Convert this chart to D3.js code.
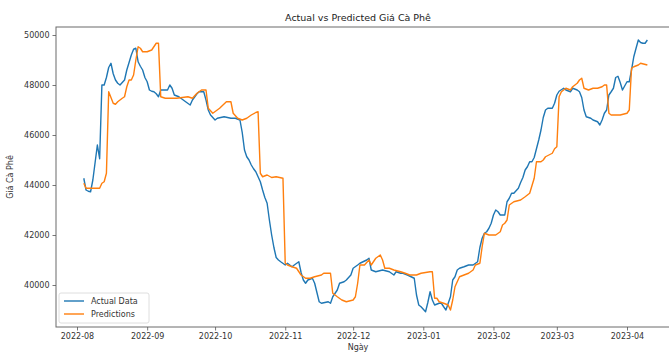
<!DOCTYPE html>
<html>
<head>
<meta charset="utf-8">
<script src="https://cdn.jsdelivr.net/npm/d3@7"></script>
<style>
  html, body { margin: 0; padding: 0; background: #fff; }
  svg { display: block; font-family: "DejaVu Sans", sans-serif; }
</style>
</head>
<body>
<svg id="chart" width="669" height="354"></svg>
<script>
// Daily coffee price: actual values and model predictions
const actualSeries = [
  ["2022-08-04",44270],["2022-08-05",43800],["2022-08-06",43750],["2022-08-07",43730],["2022-08-08",44200],
  ["2022-08-09",44900],["2022-08-10",45600],["2022-08-11",45050],["2022-08-12",48000],["2022-08-13",48000],
  ["2022-08-14",48300],["2022-08-15",48700],["2022-08-16",48870],["2022-08-17",48450],["2022-08-18",48200],
  ["2022-08-19",48070],["2022-08-20",48000],["2022-08-21",48100],["2022-08-22",48200],["2022-08-23",48600],
  ["2022-08-24",48900],["2022-08-25",49200],["2022-08-26",49430],["2022-08-27",49470],["2022-08-28",48930],
  ["2022-08-29",48750],["2022-08-30",48600],["2022-08-31",48300],["2022-09-01",48130],["2022-09-02",47800],
  ["2022-09-03",47750],["2022-09-04",47730],["2022-09-05",47650],["2022-09-06",47530],["2022-09-07",47800],
  ["2022-09-08",47800],["2022-09-10",47800],["2022-09-11",48000],["2022-09-12",47870],["2022-09-13",47600],
  ["2022-09-15",47530],["2022-09-18",47330],["2022-09-20",47200],["2022-09-21",47400],["2022-09-23",47650],
  ["2022-09-24",47730],["2022-09-26",47730],["2022-09-27",47400],["2022-09-28",47000],["2022-09-29",46800],
  ["2022-10-01",46600],["2022-10-02",46670],["2022-10-05",46730],["2022-10-08",46670],["2022-10-10",46670],
  ["2022-10-12",46600],["2022-10-13",46100],["2022-10-14",45400],["2022-10-15",45130],["2022-10-16",45000],
  ["2022-10-17",44800],["2022-10-18",44650],["2022-10-19",44530],["2022-10-20",44330],["2022-10-21",44130],
  ["2022-10-22",43800],["2022-10-23",43500],["2022-10-24",43270],["2022-10-25",42600],["2022-10-26",42000],
  ["2022-10-27",41500],["2022-10-28",41100],["2022-10-29",41000],["2022-10-30",40930],["2022-11-01",40800],
  ["2022-11-02",40870],["2022-11-04",40730],["2022-11-05",40800],["2022-11-07",40930],["2022-11-08",40500],
  ["2022-11-09",40200],["2022-11-10",40070],["2022-11-11",40200],["2022-11-13",40270],["2022-11-14",40070],
  ["2022-11-15",39700],["2022-11-16",39330],["2022-11-17",39270],["2022-11-20",39330],["2022-11-21",39270],
  ["2022-11-22",39530],["2022-11-24",39800],["2022-11-25",40070],["2022-11-27",40130],["2022-11-28",40200],
  ["2022-11-30",40400],["2022-12-01",40670],["2022-12-03",40800],["2022-12-04",40870],["2022-12-07",41000],
  ["2022-12-08",41070],["2022-12-09",40600],["2022-12-11",40530],["2022-12-14",40600],["2022-12-17",40530],
  ["2022-12-19",40400],["2022-12-20",40530],["2022-12-22",40470],["2022-12-23",40470],["2022-12-25",40400],
  ["2022-12-28",40270],["2022-12-29",39600],["2022-12-30",39200],["2022-12-31",39130],["2023-01-02",38930],
  ["2023-01-03",39300],["2023-01-04",39730],["2023-01-05",39400],["2023-01-06",39200],["2023-01-08",39270],
  ["2023-01-09",39270],["2023-01-10",39130],["2023-01-11",39000],["2023-01-13",39530],["2023-01-14",40200],
  ["2023-01-15",40330],["2023-01-16",40600],["2023-01-17",40670],["2023-01-19",40730],["2023-01-21",40800],
  ["2023-01-23",40800],["2023-01-25",40930],["2023-01-26",41500],["2023-01-27",41870],["2023-01-28",42070],
  ["2023-01-29",42130],["2023-01-30",42270],["2023-01-31",42470],["2023-02-01",42800],["2023-02-02",43000],
  ["2023-02-03",42930],["2023-02-04",42800],["2023-02-06",42800],["2023-02-07",43330],["2023-02-08",43470],
  ["2023-02-09",43670],["2023-02-10",43670],["2023-02-12",43870],["2023-02-13",44100],["2023-02-14",44300],
  ["2023-02-15",44600],["2023-02-16",44730],["2023-02-17",44930],["2023-02-18",44930],["2023-02-19",45100],
  ["2023-02-20",45450],["2023-02-21",45800],["2023-02-22",46200],["2023-02-23",46700],["2023-02-24",47000],
  ["2023-02-25",47070],["2023-02-27",47070],["2023-02-28",47270],["2023-03-01",47600],["2023-03-02",47750],
  ["2023-03-04",47870],["2023-03-05",47800],["2023-03-07",47730],["2023-03-08",47870],["2023-03-10",47800],
  ["2023-03-11",47730],["2023-03-12",47500],["2023-03-13",47000],["2023-03-14",46730],["2023-03-16",46670],
  ["2023-03-17",46600],["2023-03-19",46530],["2023-03-20",46400],["2023-03-21",46600],["2023-03-22",46870],
  ["2023-03-23",47000],["2023-03-24",47600],["2023-03-25",47730],["2023-03-26",47870],["2023-03-27",48300],
  ["2023-03-28",48350],["2023-03-29",48100],["2023-03-30",47800],["2023-04-01",48130],["2023-04-02",48130],
  ["2023-04-03",48600],["2023-04-04",49130],["2023-04-05",49470],["2023-04-06",49800],["2023-04-07",49700],
  ["2023-04-08",49670],["2023-04-09",49670],["2023-04-10",49800]
];

const predictedSeries = [
  ["2022-08-04",44070],["2022-08-05",43870],["2022-08-11",43870],["2022-08-12",44070],["2022-08-13",44130],
  ["2022-08-14",44470],["2022-08-15",47730],["2022-08-16",47500],["2022-08-17",47270],["2022-08-18",47230],
  ["2022-08-19",47330],["2022-08-21",47470],["2022-08-22",47530],["2022-08-23",47930],["2022-08-24",48200],
  ["2022-08-25",48200],["2022-08-26",48400],["2022-08-27",49000],["2022-08-28",49530],["2022-08-29",49470],
  ["2022-08-30",49330],["2022-09-01",49330],["2022-09-03",49400],["2022-09-05",49670],["2022-09-06",49670],
  ["2022-09-07",47530],["2022-09-09",47470],["2022-09-11",47470],["2022-09-14",47470],["2022-09-19",47530],
  ["2022-09-21",47470],["2022-09-23",47670],["2022-09-25",47800],["2022-09-27",47800],["2022-09-28",47070],
  ["2022-09-30",46870],["2022-10-03",47070],["2022-10-06",47330],["2022-10-08",47330],["2022-10-09",46870],
  ["2022-10-11",46670],["2022-10-13",46600],["2022-10-15",46670],["2022-10-17",46800],["2022-10-19",46900],
  ["2022-10-20",46930],["2022-10-21",44470],["2022-10-22",44330],["2022-10-24",44400],["2022-10-26",44300],
  ["2022-10-28",44330],["2022-10-31",44270],["2022-11-01",40870],["2022-11-02",40800],["2022-11-04",40730],
  ["2022-11-06",40670],["2022-11-08",40400],["2022-11-10",40270],["2022-11-12",40270],["2022-11-14",40330],
  ["2022-11-17",40400],["2022-11-18",40470],["2022-11-21",40470],["2022-11-22",39670],["2022-11-24",39530],
  ["2022-11-26",39400],["2022-11-28",39330],["2022-12-01",39400],["2022-12-02",39530],["2022-12-03",40070],
  ["2022-12-04",40800],["2022-12-06",40800],["2022-12-08",41000],["2022-12-09",40800],["2022-12-11",41070],
  ["2022-12-13",41200],["2022-12-14",41000],["2022-12-15",40670],["2022-12-17",40670],["2022-12-19",40600],
  ["2022-12-22",40530],["2022-12-24",40470],["2022-12-26",40400],["2022-12-29",40400],["2022-12-31",40470],
  ["2023-01-04",40530],["2023-01-05",40530],["2023-01-06",39470],["2023-01-07",39470],["2023-01-08",39330],
  ["2023-01-10",39270],["2023-01-12",39200],["2023-01-13",39000],["2023-01-14",39400],["2023-01-15",39930],
  ["2023-01-16",40130],["2023-01-17",40330],["2023-01-19",40400],["2023-01-21",40470],["2023-01-23",40600],
  ["2023-01-24",40800],["2023-01-26",40870],["2023-01-27",41530],["2023-01-28",42070],["2023-01-30",42000],
  ["2023-02-02",42000],["2023-02-04",42130],["2023-02-05",42400],["2023-02-06",42470],["2023-02-07",42600],
  ["2023-02-08",43200],["2023-02-10",43330],["2023-02-13",43400],["2023-02-15",43530],["2023-02-17",43670],
  ["2023-02-19",44270],["2023-02-20",44930],["2023-02-22",44930],["2023-02-23",45000],["2023-02-24",45130],
  ["2023-02-27",45270],["2023-02-28",45450],["2023-03-01",45530],["2023-03-02",47530],["2023-03-03",47730],
  ["2023-03-05",47870],["2023-03-07",47800],["2023-03-08",47930],["2023-03-10",48070],["2023-03-11",48200],
  ["2023-03-12",48270],["2023-03-13",47870],["2023-03-15",47800],["2023-03-17",47870],["2023-03-19",47870],
  ["2023-03-21",47930],["2023-03-22",48000],["2023-03-23",48000],["2023-03-24",46870],["2023-03-25",46800],
  ["2023-03-29",46800],["2023-04-01",46870],["2023-04-02",47000],["2023-04-03",48670],["2023-04-04",48730],
  ["2023-04-06",48800],["2023-04-07",48870],["2023-04-10",48800]
];

const yTickValues = [40000, 42000, 44000, 46000, 48000, 50000];
const xTickDates = ["2022-08-01","2022-09-01","2022-10-01","2022-11-01","2022-12-01",
                    "2023-01-01","2023-02-01","2023-03-01","2023-04-01"];
const seriesNames = ["Actual Data", "Predictions"];
const seriesColors = ["#1f77b4", "#ff7f0e"];

const parse = d3.utcParse("%Y-%m-%d");
const fmt = d3.utcFormat("%Y-%m");

const svg = d3.select("#chart");
const plot = { left: 56, top: 27, right: 690, bottom: 327 };

const x = d3.scaleUtc()
  .domain([parse("2022-08-01"), parse("2023-04-01")])
  .range([77, 627]);
const y = d3.scaleLinear()
  .domain([38320, 50320])
  .range([plot.bottom, plot.top]);

// clip for the lines
svg.append("defs").append("clipPath").attr("id", "clip")
  .append("rect").attr("x", plot.left).attr("y", plot.top)
  .attr("width", plot.right - plot.left).attr("height", plot.bottom - plot.top);

const line = d3.line()
  .x(d => x(parse(d[0])))
  .y(d => y(d[1]));

// actual first, predictions drawn over it
const lines = svg.append("g").attr("clip-path", "url(#clip)");
[actualSeries, predictedSeries].forEach((s, i) => {
  lines.append("path")
    .datum(s)
    .attr("fill", "none")
    .attr("stroke", seriesColors[i])
    .attr("stroke-width", 1.4)
    .attr("stroke-linejoin", "round")
    .attr("d", line);
});

// frame
svg.append("rect")
  .attr("x", plot.left).attr("y", plot.top)
  .attr("width", plot.right - plot.left).attr("height", plot.bottom - plot.top)
  .attr("fill", "none").attr("stroke", "#6a6a6a").attr("stroke-width", 1);

// axes
const xAxis = svg.append("g")
  .attr("transform", `translate(0,${plot.bottom})`)
  .call(d3.axisBottom(x).tickValues(xTickDates.map(parse)).tickFormat(fmt).tickSize(3.5).tickPadding(3));
const yAxis = svg.append("g")
  .attr("transform", `translate(${plot.left},0)`)
  .call(d3.axisLeft(y).tickValues(yTickValues).tickFormat(d3.format("d")).tickSize(3.5).tickPadding(3));

[xAxis, yAxis].forEach(g => {
  g.select(".domain").remove();
  g.selectAll(".tick line").attr("stroke", "#555").attr("stroke-width", 0.8);
  g.selectAll(".tick text").attr("fill", "#333").style("font-size", "8px")
    .style("font-family", "DejaVu Sans, sans-serif");
});

// titles
svg.append("text")
  .attr("x", 358).attr("y", 21)
  .attr("text-anchor", "middle")
  .style("font-size", "9.5px").attr("fill", "#222")
  .text("Actual vs Predicted Giá Cà Phê");
svg.append("text")
  .attr("x", 358).attr("y", 350)
  .attr("text-anchor", "middle")
  .style("font-size", "8px").attr("fill", "#333")
  .text("Ngày");
svg.append("text")
  .attr("transform", "translate(13,177) rotate(-90)")
  .attr("text-anchor", "middle")
  .style("font-size", "8px").attr("fill", "#333")
  .text("Giá Cà Phê");

// legend
const lg = svg.append("g").attr("transform", "translate(59,293)");
lg.append("rect")
  .attr("width", 90).attr("height", 30).attr("rx", 2)
  .attr("fill", "#fff").attr("fill-opacity", 0.85)
  .attr("stroke", "#d5d5d5").attr("stroke-width", 0.8);
seriesNames.forEach((name, i) => {
  const row = lg.append("g").attr("transform", `translate(5,${8 + i * 13})`);
  row.append("line").attr("x1", 0).attr("x2", 20).attr("y1", 0).attr("y2", 0)
    .attr("stroke", seriesColors[i]).attr("stroke-width", 1.4);
  row.append("text").attr("x", 27).attr("y", 3)
    .style("font-size", "8px").attr("fill", "#333").text(name);
});
</script>
</body>
</html>
